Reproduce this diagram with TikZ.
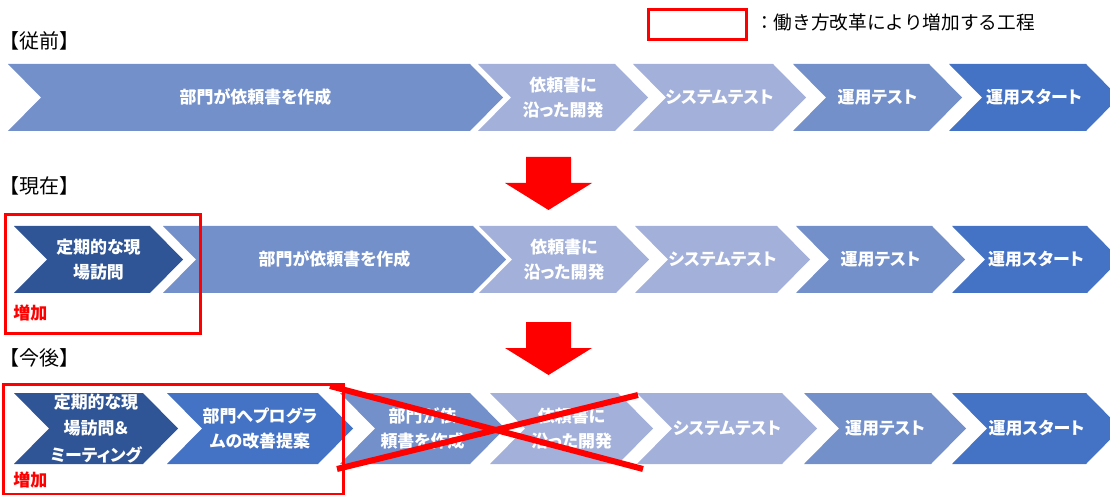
\documentclass[tikz,border=0pt]{standalone}
\usepackage{fontspec}
\newfontfamily\jp{Noto Sans CJK JP}[RawFeature=+palt]
\newfontfamily\jpn{Noto Sans CJK JP}
\definecolor{navy}{HTML}{2F5597}
\definecolor{dblue}{HTML}{4472C4}
\definecolor{mblue}{HTML}{7390CA}
\definecolor{lblue}{HTML}{A3B1DA}
\definecolor{xred}{HTML}{FF0000}
% name, colour, left x, top-right x, top y, bottom y, depth
\newcommand\chev[7]{%
  \fill[#2] (#3,#5) -- (#4,#5) -- ({#4+#7},{(#5+#6)/2}) -- (#4,#6) -- (#3,#6) -- ({#3+#7},{(#5+#6)/2}) -- cycle;
  \coordinate (#1) at ({(#3+#4+#7)/2},{(#5+#6)/2});}
\tikzset{
  ct/.style={text=white, font=\jp\bfseries\fontsize{12.7}{19}\selectfont, align=center, inner sep=0pt},
  ttl/.style={anchor=west, font=\jpn\fontsize{15}{17}\selectfont, inner sep=0pt},
  zoka/.style={anchor=west, text=xred, font=\jpn\bfseries\fontsize{12.75}{14}\selectfont, inner sep=0pt},
  addbox/.style={draw=xred, line width=2.25pt},
  cross/.style={draw=xred, line width=4.5pt},
  downarrow/.style={fill=xred}
}
\begin{document}
\begin{tikzpicture}[x=0.75pt,y=-0.75pt]
\useasboundingbox (0,0) rectangle (1110,495);
\clip (0,0) rectangle (1110,495);

% legend
\draw[addbox] (648,10) rectangle (746,40);
\node[anchor=west, font=\jpn\fontsize{14}{16}\selectfont, inner sep=0pt] (legend) at (755,22) {：働き方改革により増加する工程};

% ---------- row 1 ----------
\node[ttl] (t1) at (-1,41) {【従前】};
\chev{a1}{mblue}{8}{470}{64}{131}{33}
\chev{a2}{lblue}{478}{615}{64}{131}{33}
\chev{a3}{lblue}{633}{773}{64}{131}{33}
\chev{a4}{mblue}{793}{929}{64}{131}{33}
\chev{a5}{dblue}{949}{1086}{64}{131}{33}
\node[ct] (a1t) at (a1) {部門が依頼書を作成};
\node[ct] (a2t) at (a2) {依頼書に\\沿った開発};
\node[ct] (a3t) at (a3) {システムテスト};
\node[ct] (a4t) at (a4) {運用テスト};
\node[ct] (a5t) at (a5) {運用スタート};

% arrow 1
\fill[downarrow] (526,157) -- (571,157) -- (571,183) -- (592,183) -- (548.5,210) -- (505,183) -- (526,183) -- cycle;

% ---------- row 2 ----------
\node[ttl] (t2) at (-1,186) {【現在】};
\chev{b1}{navy}{14}{150}{226}{293}{33}
\chev{b2}{mblue}{163}{473}{226}{293}{33}
\chev{b3}{lblue}{479}{616}{226}{293}{33}
\chev{b4}{lblue}{635}{777}{226}{293}{33}
\chev{b5}{mblue}{796}{932}{226}{293}{33}
\chev{b6}{dblue}{952}{1087}{226}{293}{33}
\node[ct] (b1t) at (b1) {定期的な現\\場訪問};
\node[ct] (b2t) at (b2) {部門が依頼書を作成};
\node[ct] (b3t) at (b3) {依頼書に\\沿った開発};
\node[ct] (b4t) at (b4) {システムテスト};
\node[ct] (b5t) at (b5) {運用テスト};
\node[ct] (b6t) at (b6) {運用スタート};
\draw[addbox] (5,215) rectangle (200,333);
\node[zoka] (z2) at (13,312.5) {増加};

% arrow 2
\fill[downarrow] (526,322) -- (571,322) -- (571,348) -- (592,348) -- (548.5,375) -- (505,348) -- (526,348) -- cycle;

% ---------- row 3 ----------
\node[ttl] (t3) at (-1,358) {【今後】};
\chev{c1}{navy}{14}{143}{393}{464}{35}
\chev{c2}{dblue}{167}{318}{393}{464}{35}
\chev{c3}{mblue}{340}{470}{393}{464}{35}
\chev{c4}{lblue}{490}{618}{393}{464}{35}
\chev{c5}{lblue}{637}{782}{393}{464}{35}
\chev{c6}{mblue}{804}{931}{393}{464}{35}
\chev{c7}{dblue}{952}{1086}{393}{464}{35}
\node[ct, font=\jp\bfseries\fontsize{12.7}{20}\selectfont] (c1t) at (c1) {定期的な現\\場訪問＆\\ミーティング};
\node[ct] (c2t) at (c2) {部門へプログラ\\ムの改善提案};
\node[ct] (c3t) at (c3) {部門が依\\頼書を作成};
\node[ct] (c4t) at (c4) {依頼書に\\沿った開発};
\node[ct] (c5t) at (c5) {システムテスト};
\node[ct] (c6t) at (c6) {運用テスト};
\node[ct] (c7t) at (c7) {運用スタート};
\draw[addbox] (3,384) rectangle (343,494);
\node[zoka] (z3) at (13,480) {増加};

% cross-out
\coordinate (x1) at (330,386);
\coordinate (x2) at (643,469);
\coordinate (x3) at (337,469);
\coordinate (x4) at (638,395);
\draw[cross] (x1) -- (x2);
\draw[cross] (x3) -- (x4);
\end{tikzpicture}
\end{document}
